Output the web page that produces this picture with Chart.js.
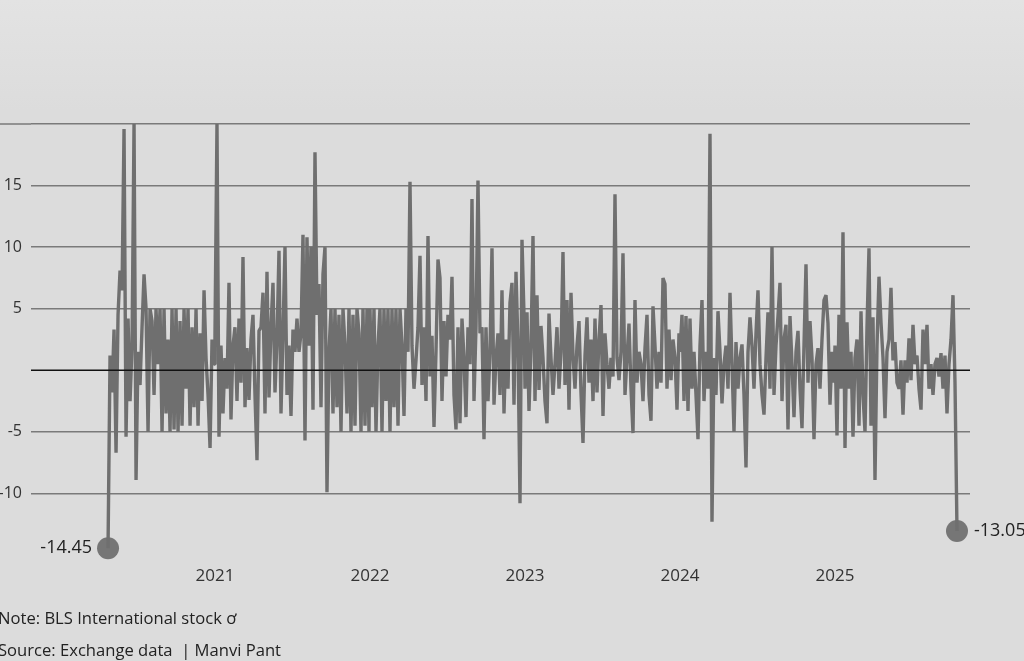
<!DOCTYPE html>
<html>
<head>
<meta charset="utf-8">
<script src="https://cdn.jsdelivr.net/npm/chart.js@4"></script>
<style>
body{margin:0;width:1024px;height:661px;overflow:hidden;position:relative;
background:linear-gradient(#e3e3e3 0px,#dcdcdc 110px,#dcdcdc 100%);font-family:"Open Sans",sans-serif}
#wrap{position:absolute;left:0;top:0;width:1024px;height:661px}
.note{position:absolute;left:-2px;font-size:16.6px;color:#222;white-space:pre}
</style>
</head>
<body>
<div id="wrap"><canvas id="mainChart" width="1024" height="661"></canvas></div>
<div class="note" style="top:606px">Note: BLS International stock ơ</div>
<div class="note" style="top:638px">Source: Exchange data  | Manvi Pant</div>
<script>

// daily change, % (about one sample every 2 px)
const chg2020=[-14.45,1.2,-1.8,3.3,-6.7,4.5,8.1,6.5,19.6,-5.4,4.2,-2.5,2,20,-8.9,1.5,-1.2,3.5,7.8,5,
-5,5,4,-2,5,0.5,5,-5,5,-3.5,2.5,-5,5,-4.8,5,-5,4,-4.5,5,-1.5,
5,-4.5,3.5,-3,5,-4.5,3,-2.5,6.5,1,-2,-6.3,2.5,0.5]

const chg2021=[3,20,-5.4,2,-3.5,1,-1.5,7.1,-4,2,3.5,-2.5,4.2,-1,9.2,-3,1.8,-2.4,2.5,4.5,
-2,-7.3,3.2,3.5,6.3,-3.5,8,-2.2,3.5,7.1,-1.8,2.5,9.7,-3.5,3,10,-2,2,-3.7,3.3,
1.5,4.2,1.5,3,11,-5.7,10.8,2,10,-3.2,17.7,4.5,7,-3,7.8,10,-9.9,1.5,5,-3.5,
5,-3,4.5,-5,5,2,-3.5,5,-5,4.5,-4.5,5,3,-5,5,-4.5,5,-5]

const chg2022=[5,-3,5,-5,2,5,-5,5,-2.5,5,-5,5,-3,5,-4.5,5,2,-3.7,5,1.5,
15.3,2,-1.5,0.8,3.5,9.3,-1.2,3.5,-2.5,10.9,-0.5,2.8,-4.6,1.5,9,7.5,-2.5,4,-0.5,4.5,
2.5,7.6,-2,-4.8,3.5,-4.3,4.2,1,-3.8,3.5,0.5,13.9,-2.5,3.5,15.4,3,3.5,-5.6,3.5,-2.5,
1.5,9.9,-2.8,1,3,-2,6.5,-3.5,2.5,-1.5,5.5,7.1,-2.8,8,2,-10.8,10.6,4.5]

const chg2023=[-1.5,4.7,-3.3,2,10.9,-2.5,6.1,-1.6,3.6,1,-2.5,-4.3,4.6,1,-2,0.5,3.5,-1.5,1.5,9.6,
-1.2,5.7,-3.2,6.3,1.2,-1.5,2,4,-1.8,-5.9,1.2,4.3,-1,2.5,-2.5,4.2,-1.8,2.5,5.3,-3.7,
3,0.5,-1.5,1,-0.5,14.3,1,-0.8,1.5,9.5,-2,1,3.8,-1.5,-5.1,5.7,-1,1.5,0.5,-2.5,
1.8,4.5,-2,-4.1,5.2,2,-1.5,1.5,-1,7.5,7,-1.5,3.3,-0.8,2.5,1,-3.2,3]

const chg2024=[1.5,4.5,-2.5,4.4,-3.3,4.2,-1.5,1.5,-2,-5.6,2,5.7,-2.5,1.5,-1.5,19.2,-12.3,1,-2,4.8,
1.5,-2.7,0.5,2,-1.5,6.3,0.5,-5,2.3,-1.5,1,2.1,-2,-7.9,1.5,4.3,2,-1.5,3,6.5,
0.5,-2,-3.6,1,4.7,-1.5,10,-2,2,4.4,7.1,-2.5,2.5,3.7,-4.8,4.4,0.5,-3.8,1.5,3.2,
-1.5,-4.7,2,8.6,-1,4,1,-5.6,0.5,1.8,-1.5,2.5,5.7,6.1,3.8,-2.8,1.5,-1]

const chg2025=[2,-5.3,4.5,-1.5,11.2,-6.3,3.9,-1.5,1.5,-5.4,1,2.5,-4.5,4.8,-2,-5,3.5,9.9,-4.5,4.3,
-8.9,2,7.6,3.9,1,-3.9,1.5,2.5,6.7,0.8,2.3,-1,-1.5,0.8,-3.6,0.8,-1,2.6,-0.8,3.7,
0.5,1.2,-1.5,-3.2,3.3,0.5,3.7,-1.5,0.5,-2,0.5,1,-0.5,1.4,-1.5,1.2,-3.5,0.5,2.5,6.1,
-1,-13.05]

const yearStarts=[2020.31,2021,2022,2023,2024,2025]
const yearSeries=[chg2020,chg2021,chg2022,chg2023,chg2024,chg2025]
const yearTicks=[2021,2022,2023,2024,2025]
const yTicks=[-10,-5,0,5,10,15,20]
const step=1/77.5

const points=[]
yearSeries.forEach((arr,i)=>{
arr.forEach((v,k)=>{
points.push({x:yearStarts[i]+k*step,y:v})
})
})

const ends=[points[0],points[points.length-1]]

const overlay={
id:"overlay",
beforeDatasetsDraw(chart){
const c=chart.ctx
const y=chart.scales.y.getPixelForValue(20)
c.save()
c.strokeStyle="#7a7a7a"
c.lineWidth=1.5
c.beginPath()
c.moveTo(0,y)
c.lineTo(chart.chartArea.left,y)
c.stroke()
c.restore()
},
afterDatasetsDraw(chart){
const c=chart.ctx
const a=chart.chartArea
const y0=chart.scales.y.getPixelForValue(0)
c.save()
c.strokeStyle="#111"
c.lineWidth=1.5
c.beginPath()
c.moveTo(a.left,y0)
c.lineTo(a.right,y0)
c.stroke()

const meta=chart.getDatasetMeta(1)
c.fillStyle="#222"
c.font="18px 'Open Sans'"
c.textBaseline="middle"
const p0=meta.data[0]
const p1=meta.data[1]
c.textAlign="right"
c.fillText(ends[0].y.toFixed(2),p0.x-16,p0.y)
c.textAlign="left"
c.fillText(ends[1].y.toFixed(2),p1.x+17,p1.y)
c.restore()
}
}

const ctx=document.getElementById("mainChart")

new Chart(ctx,{
type:"line",
data:{
datasets:[
{
data:points,
borderColor:"#6f6f6f",
borderWidth:3.4,
borderJoinStyle:"bevel",
pointRadius:0,
tension:0,
clip:false
},
{
data:ends,
showLine:false,
pointRadius:11,
pointBackgroundColor:"#767676",
pointBorderWidth:0,
clip:false
}
]
},
options:{
responsive:false,
animation:false,
layout:{padding:{top:124,bottom:76,left:0,right:54}},
plugins:{legend:{display:false},tooltip:{enabled:false}},
scales:{
x:{
type:"linear",
min:2019.813,
max:2025.871,
afterBuildTicks:s=>{s.ticks=yearTicks.map(v=>({value:v}))},
afterFit:s=>{s.height=30},
grid:{display:false},
border:{display:false},
ticks:{color:"#333",font:{family:"Open Sans",size:17},padding:3,callback:v=>String(v)}
},
y:{
min:-15,
max:20,
afterBuildTicks:s=>{s.ticks=yTicks.map(v=>({value:v}))},
afterFit:s=>{s.width=31},
border:{display:false},
grid:{
drawTicks:false,
lineWidth:1.5,
color:c=>c.tick&&c.tick.value===0?"rgba(0,0,0,0)":"#7a7a7a"
},
ticks:{
color:"#333",
font:{family:"Open Sans",size:16},
padding:9,
callback:v=>(v===0||v===20)?"":String(v)
}
}
}
},
plugins:[overlay]
})
</script>
</body>
</html>
